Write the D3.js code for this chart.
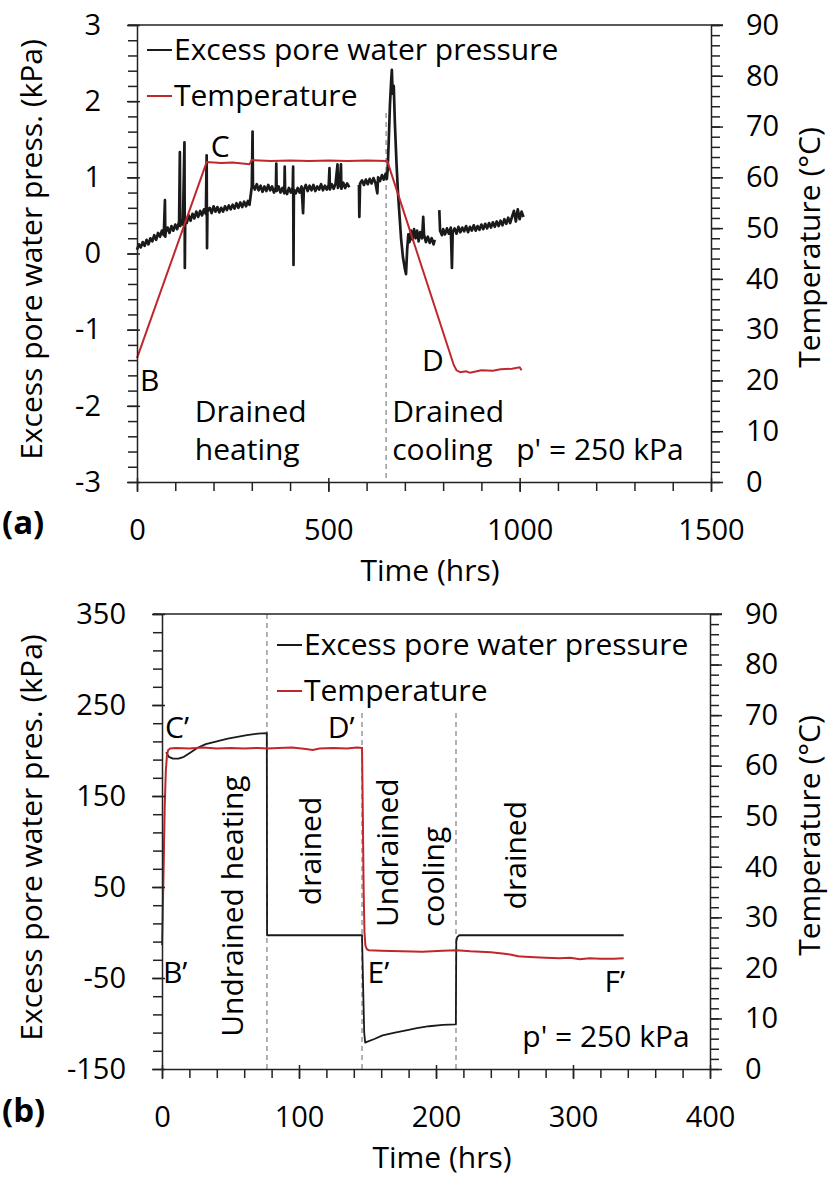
<!DOCTYPE html>
<html>
<head>
<meta charset="utf-8">
<script src="https://cdn.jsdelivr.net/npm/d3@7"></script>
<style>
    body { margin: 0; background: #fff; }
    svg text { font-family: "Open Sans", sans-serif; fill: #000; }
</style>
</head>
<body>
<div id="chart-container"></div>
<script>
// ---- panel (a): drained heating / cooling, p' = 250 kPa ----
// excess pore water pressure (kPa), null = gap in the record
const timeA = [0, 5, 10, 15, 20, 25, 30, 35, 40, 45, 50, 55, 60, 65, 70, 73, 74, 75, 80, 85, 90, 95, 100, 105, 110, 112, 113, 115, 120, 124, 125, 126, 130, 135, 140, 145, 150, 155, 160, 165, 170, 175, 180, 182, 183, 184, 190, 195, 200, 205, 210, 215, 220, 225, 230, 235, 240, 245, 250, 255, 260, 265, 270, 275, 280, 285, 290, 294,
    300, 302, 303, 308, 313, 318, 323, 328, 333, 338, 343, 348, 353, 358, 363, 364, 365, 370, 375, 380, 385, 386, 387, 392, 397, 402, 407, 408, 409, 410, 415, 420, 425, 430, 434, 436, 441, 446, 451, 456, 461, 466, 471, 476, 481, 486, 491, 496, 501, 503, 504, 509, 514, 519, 524, 525, 530, 533, 534, 539, 544, 549, 555, 567,
    580, 581, 583, 588, 593, 598, 603, 608, 613, 618, 623, 628, 630, 635, 640, 645, 650, 653, 655, 658, 661, 664, 666, 668, 671, 674, 678, 682, 686, 690, 695, 700, 703, 706, 709, 712, 716, 720, 724, 728, 732, 736, 740, 745, 748, 750, 755, 760, 765, 770, 775, 778, 784,
    790, 792, 797, 800, 805, 810, 815, 820, 823, 825, 830, 835, 840, 845, 850, 855, 860, 865, 870, 875, 880, 885, 890, 895, 900, 905, 910, 915, 920, 925, 930, 935, 940, 945, 950, 955, 960, 965, 970, 975, 980, 985, 990, 995, 1000, 1005, 1010];
const pwpA = [0.05, 0.12, 0.08, 0.15, 0.10, 0.18, 0.12, 0.20, 0.16, 0.24, 0.18, 0.27, 0.22, 0.30, 0.24, 0.70, 0.22, 0.28, 0.34, 0.27, 0.36, 0.30, 0.38, 0.32, 0.42, 1.33, 0.36, 0.44, 0.38, 1.46, -0.19, 0.45, 0.40, 0.50, 0.43, 0.52, 0.46, 0.55, 0.48, 0.56, 0.50, 0.58, 0.52, 1.29, 0.07, 0.55, 0.60, 0.53, 0.62, 0.55, 0.61, 0.54, 0.60, 0.55, 0.62, 0.57, 0.63, 0.58, 0.64, 0.59, 0.66, 0.60, 0.67, 0.61, 0.68, 0.62, 0.69, 0.64,
    0.88, 1.60, 0.90, 0.84, 0.91, 0.83, 0.89, 0.81, 0.88, 0.82, 0.90, 0.83, 0.88, 0.80, 0.87, 1.18, 0.82, 0.88, 0.80, 0.86, 0.79, 1.14, 0.84, 0.78, 0.86, 0.80, 0.87, 1.14, -0.15, 0.84, 0.79, 0.86, 0.80, 0.88, 0.53, 0.84, 0.90, 0.82, 0.89, 0.83, 0.90, 0.82, 0.88, 0.84, 0.91, 0.83, 0.89, 0.84, 0.90, 1.12, 0.84, 0.91, 0.85, 0.92, 1.17, 0.86, 0.91, 1.17, 0.85, 0.93, 0.86, 0.92, 0.87, null,
    0.90, 0.48, 0.92, 0.96, 0.90, 0.97, 0.91, 0.98, 0.92, 0.99, 0.93, 0.79, 1.00, 0.95, 1.03, 0.97, 1.05, 0.98, 1.10, 1.50, 1.95, 2.25, 2.41, 2.10, 2.20, 1.70, 1.20, 0.80, 0.50, 0.20, -0.05, -0.20, -0.27, 0.05, 0.25, 0.15, 0.30, 0.18, 0.32, 0.20, 0.30, 0.16, 0.28, 0.20, 0.48, 0.25, 0.15, 0.22, 0.14, 0.20, 0.12, 0.18, null,
    0.57, 0.30, 0.24, 0.32, 0.25, 0.33, 0.26, 0.34, -0.19, 0.28, 0.33, 0.26, 0.35, 0.28, 0.34, 0.29, 0.36, 0.28, 0.35, 0.30, 0.37, 0.30, 0.36, 0.31, 0.38, 0.32, 0.39, 0.33, 0.40, 0.34, 0.41, 0.35, 0.42, 0.36, 0.43, 0.37, 0.45, 0.39, 0.47, 0.40, 0.48, 0.56, 0.42, 0.58, 0.45, 0.55, 0.48];
// temperature (°C)
const tempTimeA = [0, 182, 220, 250, 294, 300, 350, 400, 450, 500, 550, 600, 654, 828, 835, 845, 860, 870, 900, 930, 950, 980, 1000, 1005];
const tempA = [24.4, 63.0, 62.8, 62.9, 62.6, 63.4, 63.2, 63.3, 63.2, 63.3, 63.2, 63.3, 63.2, 23.0, 22.0, 21.6, 21.8, 21.5, 22.0, 21.9, 22.2, 22.3, 22.6, 22.0];
const stageA = [651];

// ---- panel (b): undrained / drained stages, p' = 250 kPa ----
const timeB = [3, 5, 8, 12, 16, 20, 26, 32, 40, 48, 55, 62, 70, 76.5, 76.7, 78, 90, 110, 130, 146, 146.8, 147.6, 148.3, 150, 155, 161, 170, 180, 186, 195, 205, 214.5, 214.8, 215.5, 217, 240, 270, 300, 337];
const pwpB = [198, 193, 191, 191, 193, 197, 203, 207, 210, 213, 215, 217, 218.5, 219, -3, -3, -3, -3, -3, -3, -60, -110, -121, -120, -117, -113, -110, -107, -105, -103, -101.5, -101, -10, -5, -3, -3, -3, -3, -3];
const tempTimeB = [0, 0.5, 1.2, 2, 2.8, 3.6, 4.5, 6, 10, 20, 30, 40, 50, 60, 70, 77, 85, 95, 105, 110, 115, 125, 135, 142, 146, 146.6, 147.2, 147.8, 148.5, 149.5, 151, 160, 175, 190, 205, 215, 225, 240, 250, 255, 260, 265, 272, 280, 290, 298, 305, 312, 320, 330, 337];
const tempB = [24.5, 30, 40, 52, 59, 62, 63.1, 63.4, 63.5, 63.4, 63.6, 63.4, 63.5, 63.4, 63.5, 63.4, 63.5, 63.6, 63.3, 63.1, 63.4, 63.5, 63.4, 63.6, 63.5, 50, 35, 27, 24.4, 23.7, 23.5, 23.4, 23.3, 23.2, 23.4, 23.5, 23.3, 23.1, 22.8, 22.6, 22.3, 22.2, 22.1, 22.0, 21.9, 22.0, 21.7, 21.9, 21.8, 21.8, 21.9];
const stageB = [76.6, 146, 214.6];

// axis ticks
const xMajorA = [0, 500, 1000, 1500];
const yMajorA = [-3, -2, -1, 0, 1, 2, 3];
const xMajorB = [0, 100, 200, 300, 400];
const yMajorB = [-150, -50, 50, 150, 250, 350];
const tMajor = [0, 10, 20, 30, 40, 50, 60, 70, 80, 90];

const width = 830, height = 1180;
const black = "#1a1a1a", red = "#c0272d";
const plain = d => String(d); // keep hyphen-minus like the original

const svg = d3.select("#chart-container")
    .append("svg")
    .attr("width", width)
    .attr("height", height);

function drawPanel(p) {
    const x = d3.scaleLinear().domain(p.xDomain).range([p.left, p.right]);
    const y = d3.scaleLinear().domain(p.yDomain).range([p.bottom, p.top]);
    const yT = d3.scaleLinear().domain([0, 90]).range([p.bottom, p.top]);
    const g = svg.append("g");

    // stage boundaries (dashed)
    p.stages.forEach((s, i) => {
        g.append("line")
            .attr("x1", x(s)).attr("x2", x(s))
            .attr("y1", p.stageTop[i]).attr("y2", p.bottom)
            .attr("stroke", "#999").attr("stroke-width", 1.5)
            .attr("stroke-dasharray", "5,4");
    });

    // pore pressure line
    const pwpData = p.time.map((t, i) => [t, p.pwp[i]]);
    g.append("path")
        .datum(pwpData)
        .attr("fill", "none")
        .attr("stroke", black)
        .attr("stroke-width", p.pwpWidth)
        .attr("stroke-linejoin", "round")
        .attr("d", d3.line().defined(d => d[1] !== null).x(d => x(d[0])).y(d => y(d[1])));

    // temperature line
    const tData = p.tempTime.map((t, i) => [t, p.temp[i]]);
    g.append("path")
        .datum(tData)
        .attr("fill", "none")
        .attr("stroke", red)
        .attr("stroke-width", 2)
        .attr("d", d3.line().x(d => x(d[0])).y(d => yT(d[1])));

    // frame top
    g.append("line")
        .attr("x1", p.left - 9).attr("x2", p.right + 12)
        .attr("y1", p.top).attr("y2", p.top)
        .attr("stroke", "#222").attr("stroke-width", 1.5);

    const styleAxis = (a) => {
        a.selectAll("path, line").attr("stroke", "#222").attr("stroke-width", 1.5);
        a.selectAll("text").style("font-size", "29px").style("font-family", "Open Sans");
    };

    // x axis: minor + major
    const xMinor = d3.range(p.xDomain[0], p.xDomain[1] + 0.01, p.xMinorStep);
    g.append("g").attr("transform", `translate(0,${p.bottom})`)
        .call(d3.axisBottom(x).tickValues(xMinor).tickSize(9).tickSizeOuter(0).tickFormat(""))
        .call(styleAxis);
    g.append("g").attr("transform", `translate(0,${p.bottom})`)
        .call(d3.axisBottom(x).tickValues(p.xMajor).tickSize(10).tickSizeOuter(0).tickPadding(27).tickFormat(plain))
        .call(styleAxis)
        .call(a => a.selectAll(".tick line").attr("y1", -4))
        .call(a => a.select(".domain").remove());

    // left axis
    const yMinor = d3.range(p.yDomain[0], p.yDomain[1] + 0.001, p.yMinorStep);
    g.append("g").attr("transform", `translate(${p.left},0)`)
        .call(d3.axisLeft(y).tickValues(yMinor).tickSize(9).tickSizeOuter(0).tickFormat(""))
        .call(styleAxis);
    g.append("g").attr("transform", `translate(${p.left},0)`)
        .call(d3.axisLeft(y).tickValues(p.yMajor).tickSize(10).tickSizeOuter(0).tickPadding(26).tickFormat(plain))
        .call(styleAxis)
        .call(a => a.selectAll(".tick line").attr("x1", 3))
        .call(a => a.select(".domain").remove());

    // right axis (temperature)
    g.append("g").attr("transform", `translate(${p.right},0)`)
        .call(d3.axisRight(yT).tickValues(d3.range(0, 91, 2)).tickSize(9).tickSizeOuter(0).tickFormat(""))
        .call(styleAxis);
    g.append("g").attr("transform", `translate(${p.right},0)`)
        .call(d3.axisRight(yT).tickValues(tMajor).tickSize(12).tickSizeOuter(0).tickPadding(23).tickFormat(plain))
        .call(styleAxis)
        .call(a => a.select(".domain").remove());

    // axis titles
    g.append("text")
        .attr("transform", `translate(42,${(p.top + p.bottom) / 2 - 4}) rotate(-90)`)
        .attr("text-anchor", "middle")
        .style("font-size", "30px")
        .text(p.yTitle);
    g.append("text")
        .attr("transform", `translate(820,${(p.top + p.bottom) / 2 - 6}) rotate(-90)`)
        .attr("text-anchor", "middle")
        .style("font-size", "30px")
        .text("Temperature (°C)");
    g.append("text")
        .attr("x", (p.left + p.right) / 2 + 6)
        .attr("y", p.bottom + 99)
        .attr("text-anchor", "middle")
        .style("font-size", "30px")
        .text("Time (hrs)");
    g.append("text")
        .attr("x", 2)
        .attr("y", p.bottom + p.tagDy)
        .style("font-size", "33px")
        .style("font-weight", "bold")
        .text(p.tag);

    // legend
    const legend = [["Excess pore water pressure", black], ["Temperature", red]];
    legend.forEach((d, i) => {
        const ly = p.legendY + i * 46;
        g.append("line")
            .attr("x1", p.legendX).attr("x2", p.legendX + 25)
            .attr("y1", ly).attr("y2", ly)
            .attr("stroke", d[1]).attr("stroke-width", 2);
        g.append("text")
            .attr("x", p.legendX + 27)
            .attr("y", ly + 10)
            .style("font-size", "30px")
            .text(d[0]);
    });

    // annotations (positioned in data units)
    p.notes.forEach(n => {
        const px = x(n.t), py = n.T !== undefined ? yT(n.T) : y(n.v);
        const t = g.append("text")
            .style("font-size", "30px")
            .attr("text-anchor", n.anchor || "start");
        if (n.rotate) {
            t.attr("transform", `translate(${px},${py}) rotate(-90)`);
        } else {
            t.attr("x", px).attr("y", py);
        }
        t.text(n.text);
    });
}

drawPanel({
    left: 137, right: 711, top: 25, bottom: 482,
    xDomain: [0, 1500], yDomain: [-3, 3],
    xMajor: xMajorA, yMajor: yMajorA, xMinorStep: 100, yMinorStep: 0.2,
    time: timeA, pwp: pwpA, tempTime: tempTimeA, temp: tempA, pwpWidth: 2.7,
    stages: stageA, stageTop: [113],
    yTitle: "Excess pore water press. (kPa)",
    tag: "(a)", tagDy: 52,
    legendX: 147, legendY: 50,
    notes: [
        { text: "C", t: 193, T: 64 },
        { text: "B", t: 8, T: 17.9 },
        { text: "D", t: 745, T: 21.9 },
        { text: "Drained", t: 151, v: -2.21 },
        { text: "heating", t: 151, v: -2.71 },
        { text: "Drained", t: 667, v: -2.21 },
        { text: "cooling", t: 667, v: -2.71 },
        { text: "p' = 250 kPa", t: 991, v: -2.71 }
    ]
});

drawPanel({
    left: 162, right: 710, top: 614, bottom: 1069,
    xDomain: [0, 400], yDomain: [-150, 350],
    xMajor: xMajorB, yMajor: yMajorB, xMinorStep: 20, yMinorStep: 20,
    time: timeB, pwp: pwpB, tempTime: tempTimeB, temp: tempB, pwpWidth: 1.8,
    stages: stageB, stageTop: [614, 713, 713],
    yTitle: "Excess pore water pres. (kPa)",
    tag: "(b)", tagDy: 53,
    legendX: 277, legendY: 645,
    notes: [
        { text: "C\u2019", t: 2.2, v: 213.7 },
        { text: "D\u2019", t: 121, v: 213.7 },
        { text: "B\u2019", t: 0.7, v: -55.5 },
        { text: "E\u2019", t: 150, v: -55.5 },
        { text: "F\u2019", t: 323, v: -65.4 },
        { text: "p' = 250 kPa", t: 263, v: -125.8 },
        { text: "Undrained heating", t: 59, v: 29, rotate: true, anchor: "middle" },
        { text: "drained", t: 116, v: 89.6, rotate: true, anchor: "middle" },
        { text: "Undrained", t: 172, v: 6, rotate: true },
        { text: "cooling", t: 206, v: 6, rotate: true },
        { text: "drained", t: 266, v: 85, rotate: true, anchor: "middle" }
    ]
});
</script>
</body>
</html>
